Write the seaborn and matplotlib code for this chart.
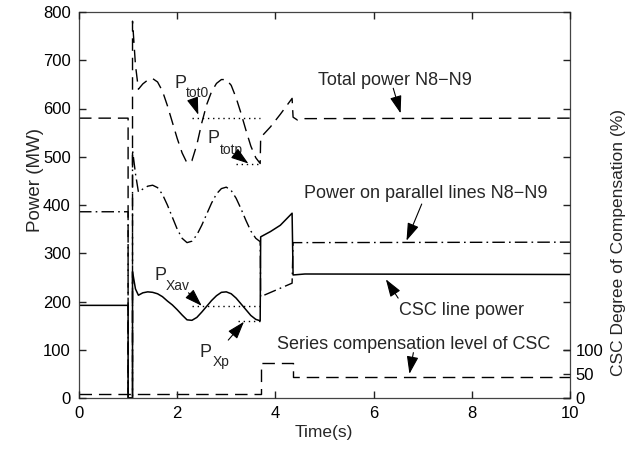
import matplotlib
matplotlib.use("Agg")
import matplotlib.pyplot as plt
import pandas as pd
import seaborn as sns

# ---- data -------------------------------------------------------------
# CSC line power (MW)
csc_time = [0, 1.0, 1.0, 1.09, 1.09, 1.15, 1.21,
            1.3, 1.4, 1.5, 1.6, 1.7, 1.8, 1.9, 2.0, 2.1, 2.2, 2.3, 2.4,
            2.5, 2.6, 2.7, 2.8, 2.9, 3.0, 3.1, 3.2, 3.3, 3.4, 3.5, 3.6,
            3.69, 3.7, 3.9, 4.1, 4.34, 4.36, 4.6, 10]
csc_power = [192, 192, 0, 0, 262, 226, 213,
             218, 220, 219, 216, 210, 201, 193, 183, 172, 162, 161, 167,
             178, 190, 202, 212, 219, 220, 216, 207, 195, 183, 171, 163,
             160, 334, 345, 358, 383, 255, 257, 256]

# Power on the parallel lines N8-N9 (MW)
par_time = [0, 1.0, 1.0, 1.09, 1.09, 1.15, 1.21,
            1.3, 1.4, 1.5, 1.6, 1.7, 1.8, 1.9, 2.0, 2.1, 2.2, 2.3, 2.4,
            2.5, 2.6, 2.7, 2.8, 2.9, 3.0, 3.1, 3.2, 3.3, 3.4, 3.5, 3.6,
            3.69, 3.7, 4.34, 4.36, 10]
par_power = [386, 386, 0, 0, 514, 465, 427,
             433, 439, 441, 436, 422, 400, 375, 350, 331, 322, 325, 338,
             358, 381, 404, 423, 434, 437, 430, 414, 392, 368, 346, 331,
             324, 210, 238, 322, 323]

# Total power N8-N9 (MW)
tot_time = [0, 1.0, 1.0, 1.09, 1.09, 1.15, 1.21,
            1.3, 1.4, 1.5, 1.6, 1.7, 1.8, 1.9, 2.0, 2.1, 2.2, 2.3, 2.4,
            2.5, 2.6, 2.7, 2.8, 2.9, 3.0, 3.1, 3.2, 3.3, 3.4, 3.5, 3.6,
            3.69, 3.7, 3.9, 4.1, 4.34, 4.36, 4.45, 4.6, 10]
tot_power = [580, 580, 0, 0, 781, 690, 640,
             651, 659, 662, 655, 636, 606, 572, 538, 508, 487, 492, 525,
             570, 608, 635, 652, 660, 660, 648, 622, 590, 555, 522, 498,
             486, 540, 562, 588, 621, 582, 576, 579, 580]

# Series compensation level of the CSC (%)
comp_time = [0, 3.7, 3.7, 4.36, 4.36, 10]
comp_level = [9, 9, 72, 72, 44, 44]

# Reference levels: value, start time, end time
ref_names = ["Ptot0", "Ptotp", "PXav", "PXp"]
ref_values = [580, 484, 190, 160]
ref_start = [2.3, 3.2, 2.3, 3.24]
ref_end = [3.69, 3.69, 3.69, 3.69]

x_ticks = [0, 2, 4, 6, 8, 10]
y_ticks = [0, 100, 200, 300, 400, 500, 600, 700, 800]
comp_ticks = [0, 50, 100]

# ---- style ------------------------------------------------------------
sns.set_theme(style="white")
plt.rcParams.update({
    "font.family": ["Liberation Sans", "DejaVu Sans"],
    "axes.edgecolor": "#444444",
    "axes.linewidth": 0.9,
    "axes.axisbelow": False,
})

W, H = 644, 449
fig = plt.figure(figsize=(W / 100, H / 100), dpi=100)
left, right, top, bottom = 79, 570, 12, 398
ax = fig.add_axes([left / W, 1 - bottom / H, (right - left) / W, (bottom - top) / H])

DASH = (0, (9, 5))
DASHDOT = (0, (9, 3, 1.2, 3))
DOT = (0, (1, 2.7))

def draw(x, y, ls, lw=1.0):
    df = pd.DataFrame({"t": x, "p": y})
    sns.lineplot(data=df, x="t", y="p", ax=ax, sort=False, estimator=None,
                 color="black", linewidth=lw, linestyle=ls)

draw(tot_time, tot_power, DASH)
draw(par_time, par_power, DASHDOT)
draw(csc_time, csc_power, "-", lw=1.1)
draw(comp_time, comp_level, DASH)
for v, a, b in zip(ref_values, ref_start, ref_end):
    draw([a, b], [v, v], DOT)

ax.set_xlim(0, 10)
ax.set_ylim(0, 800)
ax.set_xticks(x_ticks)
ax.set_yticks(y_ticks)
ax.set_xlabel("")
ax.set_ylabel("")

ax2 = ax.twinx()
ax2.set_ylim(0, 800)
ax2.set_yticks(comp_ticks)
ax2.set_yticklabels([str(v) for v in comp_ticks])
ax2.set_ylabel("")
for s in ax2.spines.values():
    s.set_visible(False)

# inward ticks on all four sides of the box
ax.tick_params(axis="both", which="major", direction="in", length=5, width=1.0,
               color="#222222", labelcolor="black",
               bottom=True, top=True, left=True, right=True,
               labelbottom=True, labeltop=False, labelleft=True, labelright=False,
               labelsize=12, pad=6)
ax2.tick_params(axis="y", which="major", direction="in", length=5, width=1.0,
                color="#222222", labelcolor="black",
                right=True, left=False, labelright=True, labelleft=False,
                labelsize=12, pad=4)

fig.text(324 / W, 1 - 433 / H, "Time(s)", ha="center", va="center", fontsize=12.5)
fig.text(35 / W, 1 - 180 / H, "Power (MW)", ha="center", va="center",
         rotation=90, fontsize=13.5)
fig.text(618 / W, 1 - 243 / H, "CSC Degree of Compensation (%)", ha="center",
         va="center", rotation=90, fontsize=12.5)

# ---- annotations ------------------------------------------------------
FS = 13
SUB = 10
arrow = dict(arrowstyle="-|>,head_length=0.9,head_width=0.3", color="black",
             lw=0.8, shrinkA=0, shrinkB=0)

def pointer(tip, tail):
    ax.annotate("", xy=tip, xytext=tail, arrowprops=arrow)

ax.text(4.87, 649, "Total power N8\u2212N9", fontsize=FS, va="baseline")
pointer((6.55, 590), (6.40, 642))

ax.text(4.58, 414, "Power on parallel lines N8\u2212N9", fontsize=FS, va="baseline")
pointer((6.67, 326), (6.98, 402))

ax.text(6.52, 172, "CSC line power", fontsize=FS, va="baseline")
pointer((6.25, 246), (6.50, 207))

ax.text(4.03, 101, "Series compensation level of CSC", fontsize=FS, va="baseline")
pointer((6.73, 50), (6.81, 94))

# subscripted labels for the reference levels
ax.text(1.955, 642, "P", fontsize=FS, va="baseline")
ax.text(2.18, 624, "tot0", fontsize=SUB, va="baseline")
pointer((2.43, 587), (2.32, 618))

ax.text(2.62, 528, "P", fontsize=FS, va="baseline")
ax.text(2.86, 506, "totp", fontsize=SUB, va="baseline")
pointer((3.45, 486), (3.21, 504))

ax.text(1.53, 245, "P", fontsize=FS, va="baseline")
ax.text(1.77, 224, "Xav", fontsize=SUB, va="baseline")
pointer((2.50, 191), (2.23, 218))

ax.text(2.46, 86, "P", fontsize=FS, va="baseline")
ax.text(2.72, 66, "Xp", fontsize=SUB, va="baseline")
pointer((3.36, 158), (3.04, 120))

fig.savefig("out.png", dpi=100)
